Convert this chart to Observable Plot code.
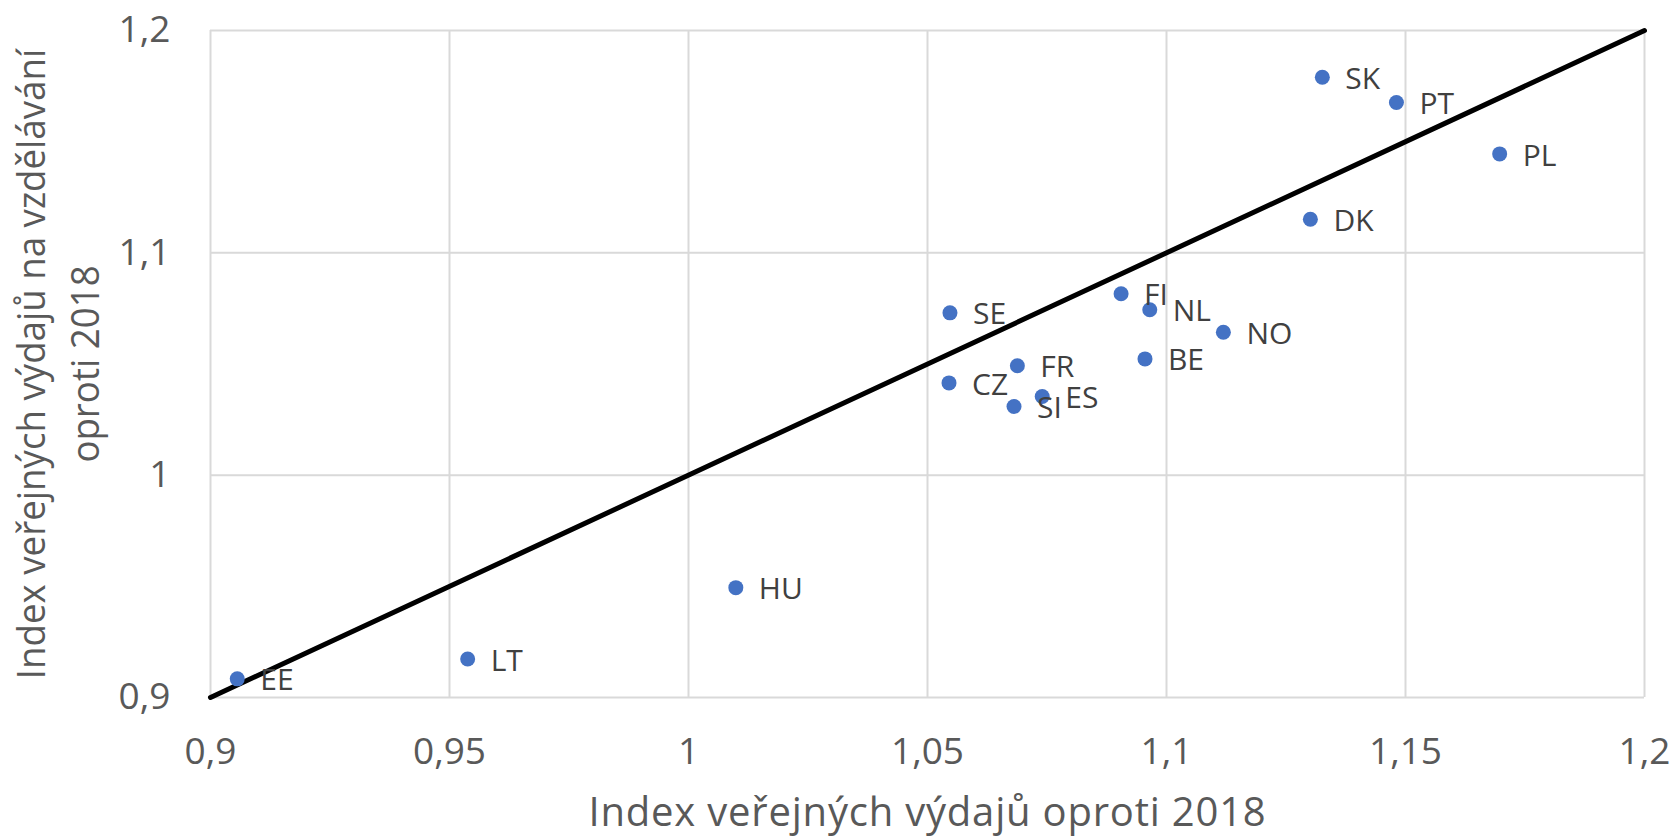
<!DOCTYPE html>
<html>
<head>
<meta charset="utf-8">
<script src="https://cdn.jsdelivr.net/npm/d3@7"></script>
<script src="https://cdn.jsdelivr.net/npm/@observablehq/plot@0.6"></script>
<style>
  html, body { margin: 0; padding: 0; background: #ffffff; }
  #chart { width: 1674px; height: 837px; }
</style>
</head>
<body>
<div id="chart"></div>
<script>
// Data
const countries = ["SK", "PT", "PL", "DK", "FI", "NL", "NO", "BE", "SE", "FR", "CZ", "ES", "SI", "HU", "LT", "EE"];
const totalIndex = [1.1326, 1.1481, 1.1697, 1.1301, 1.0905, 1.0965, 1.1119, 1.0955, 1.0547, 1.0688, 1.0545, 1.0740, 1.0681, 1.0099, 0.9538, 0.9056];
const eduIndex   = [1.1790, 1.1676, 1.1445, 1.1151, 1.0816, 1.0744, 1.0643, 1.0523, 1.0730, 1.0492, 1.0415, 1.0354, 1.0309, 0.9494, 0.9173, 0.9084];

const diagX = [0.9, 1.2];
const diagY = [0.9, 1.2];

const xTicks = [0.9, 0.95, 1, 1.05, 1.1, 1.15, 1.2];
const yTicks = [0.9, 1, 1.1, 1.2];

const xTitle = "Index veřejných výdajů oproti 2018";
const yTitle = "Index veřejných výdajů na vzdělávání\noproti 2018";

const points = countries.map((c, i) => ({country: c, x: totalIndex[i], y: eduIndex[i]}));
const diag = diagX.map((v, i) => ({x: v, y: diagY[i]}));

const fmt = d => String(d).replace(".", ",");

const chart = Plot.plot({
  width: 1674,
  height: 837,
  marginLeft: 210,
  marginRight: 30,
  marginTop: 30,
  marginBottom: 140,
  style: {fontFamily: "'Open Sans', sans-serif", fontSize: "37px", background: "#ffffff", color: "#595959"},
  x: {domain: [0.9, 1.2]},
  y: {domain: [0.9, 1.2]},
  marks: [
    Plot.gridX(xTicks, {stroke: "#d9d9d9", strokeOpacity: 1, strokeWidth: 2}),
    Plot.gridY(yTicks, {stroke: "#d9d9d9", strokeOpacity: 1, strokeWidth: 2}),
    Plot.axisX(xTicks, {tickSize: 0, tickPadding: 40, tickFormat: fmt, label: null, fill: "#595959", fontSize: 37}),
    Plot.axisY(yTicks, {tickSize: 0, tickPadding: 40, tickFormat: fmt, label: null, fill: "#595959", fontSize: 37}),
    Plot.line(diag, {x: "x", y: "y", stroke: "#000000", strokeWidth: 5}),
    Plot.dot(points, {x: "x", y: "y", r: 7.5, fill: "#4472C4", stroke: null}),
    Plot.text(points, {x: "x", y: "y", text: "country", textAnchor: "start", dx: 23, dy: 2, fontSize: 30, fill: "#404040"}),
    Plot.text([xTitle], {frameAnchor: "bottom", textAnchor: "middle", lineAnchor: "top", dy: 100, fontSize: 40, fill: "#595959"}),
    Plot.text([yTitle], {frameAnchor: "left", textAnchor: "middle", lineAnchor: "middle", rotate: -90, dx: -156, fontSize: 38, lineHeight: 1.42, fill: "#595959"})
  ]
});
document.getElementById("chart").appendChild(chart);

// Fit the axis titles to the widths of the reference's narrower typeface
const texts = Array.from(chart.querySelectorAll("text"));
const yt = texts.find(t => (t.textContent || "").startsWith("Index veřejných výdajů na"));
if (yt) {
  let w = 0;
  try { w = yt.getBBox().width; } catch (e) { w = 0; }
  const s = (w > 0 && isFinite(w)) ? 632 / w : 0.8;
  const tr = yt.getAttribute("transform") || "";
  yt.setAttribute("transform", (tr + " scale(" + s.toFixed(4) + ",1)").trim());
}
const xt = texts.find(t => (t.textContent || "") === xTitle);
if (xt) {
  let w = 0;
  try { w = xt.getBBox().width; } catch (e) { w = 0; }
  if (w > 0) xt.style.letterSpacing = ((678 - w) / xTitle.length).toFixed(2) + "px";
}
</script>
</body>
</html>
